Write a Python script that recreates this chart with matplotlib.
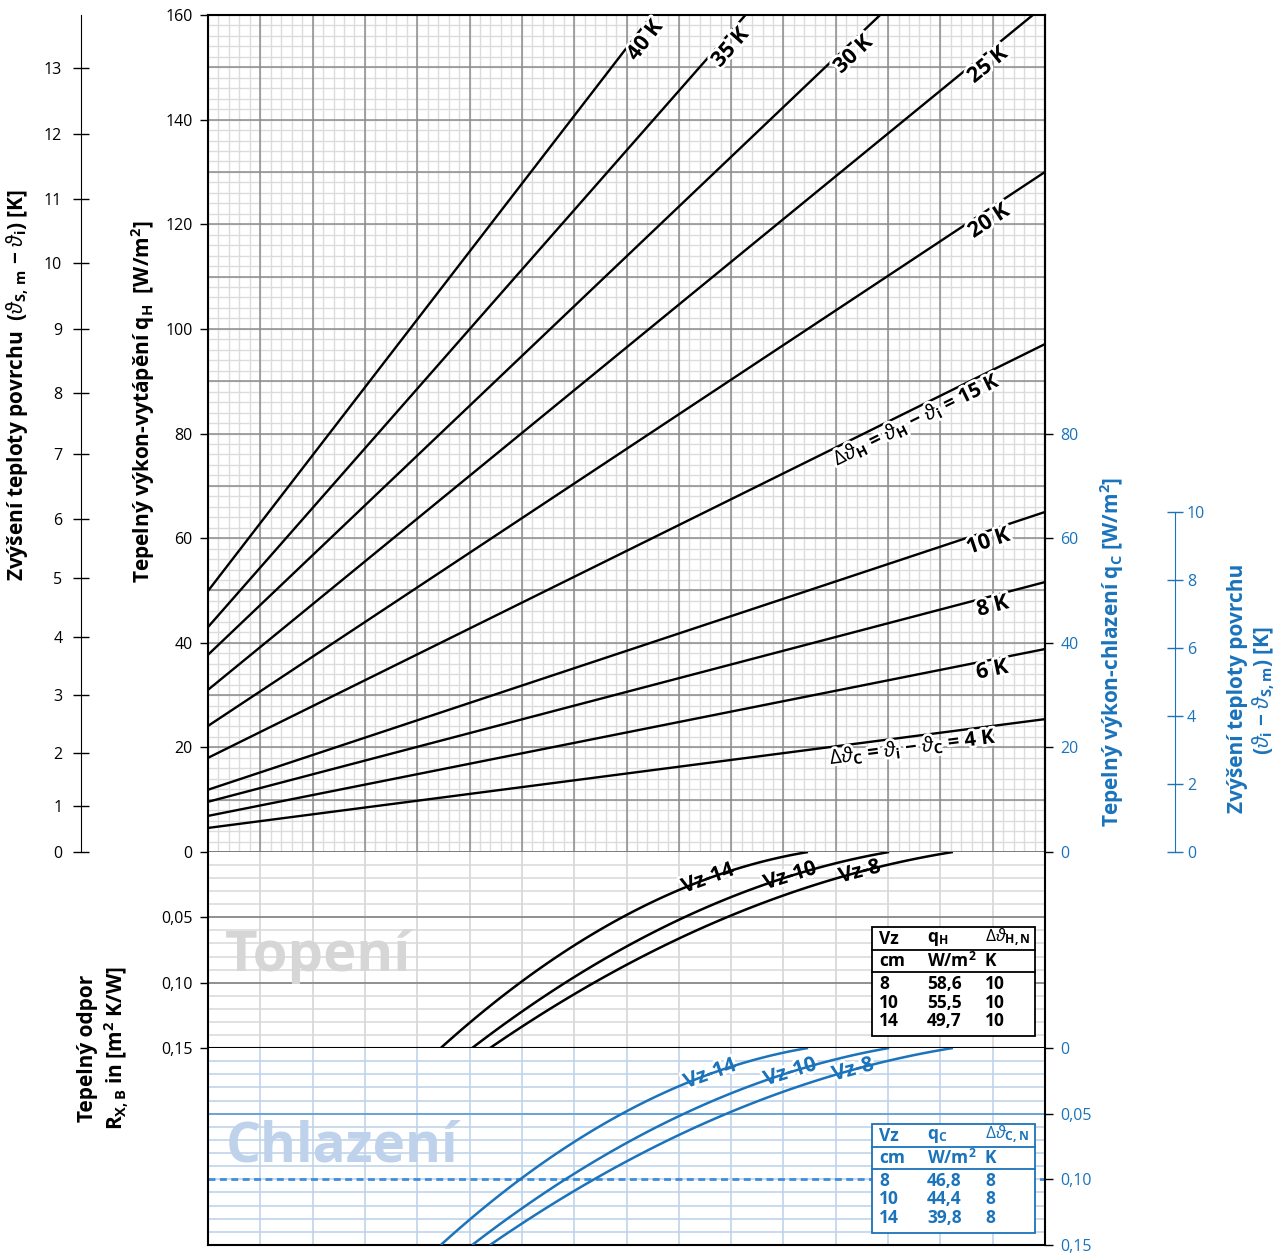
import matplotlib
matplotlib.use("Agg")
import matplotlib.pyplot as plt
import matplotlib.patheffects as pe
from matplotlib.patches import Rectangle
from matplotlib.lines import Line2D
from matplotlib.transforms import Affine2D
import numpy as np

plt.rcParams['font.family'] = ['Open Sans', 'DejaVu Sans']
plt.rcParams['mathtext.fontset'] = 'custom'
plt.rcParams['mathtext.rm'] = 'Open Sans'
plt.rcParams['mathtext.bf'] = 'Open Sans:bold'
plt.rcParams['mathtext.it'] = 'Open Sans:italic'
plt.rcParams['mathtext.sf'] = 'Open Sans'

BLUE = '#1a73bb'

# heat output lines for each temperature difference (q at left and right edge)
dT_lines = [4, 6, 8, 10, 15, 20, 25, 30, 35, 40]
q_left = [4.6, 6.9, 9.6, 11.9, 18.0, 24.1, 31.0, 37.7, 43.0, 49.9]
q_right = [25.4, 38.8, 51.6, 65.0, 97.1, 130.0, 161.9, 190.0, 225.2, 257.5]
line_labels = [r"$\Delta\vartheta_\mathbf{C}$ = $\vartheta_\mathbf{i}$ − $\vartheta_\mathbf{C}$ = 4 K",
               "6 K", "8 K", "10 K",
               r"$\Delta\vartheta_\mathbf{H}$ = $\vartheta_\mathbf{H}$ − $\vartheta_\mathbf{i}$ = 15 K",
               "20 K", "25 K", "30 K", "35 K", "40 K"]
label_x = [13.45, 14.95, 14.95, 14.85, 13.45, 14.82, 14.78, 12.2, 9.84, 8.2]

# surface temperature scale (left), tick values and their q position
surf_K = list(range(0, 14))
surf_q = [0, 8.8, 18.9, 30.0, 41.1, 52.4, 63.7, 76.0, 87.8, 100.0, 112.5, 124.9, 137.3, 149.9]

# thermal resistance curves for pipe spacing Vz
vz_names = ["Vz-14", "Vz-10", "Vz-8"]
vz_x = [[4.45, 5.01, 5.96, 6.98, 8.01, 9.08, 10.17, 11.47],
        [5.05, 5.96, 6.98, 8.01, 9.40, 10.04, 11.76, 13.02],
        [5.39, 5.96, 6.98, 8.01, 9.40, 11.07, 12.02, 13.04, 14.24]]
vz_R = [[0.150, 0.1286, 0.1000, 0.0712, 0.0482, 0.0291, 0.0122, 0.0],
        [0.150, 0.1248, 0.0957, 0.0689, 0.0459, 0.0352, 0.0115, 0.0],
        [0.150, 0.1377, 0.1094, 0.0842, 0.0612, 0.0306, 0.0199, 0.0099, 0.0]]
vz_lab_heat = [9.56, 11.13, 12.46]
vz_lab_cool = [9.6, 11.13, 12.33]

# tables
tab_vz = ["8", "10", "14"]
tab_qH = ["58,6", "55,5", "49,7"]
tab_dH = ["10", "10", "10"]
tab_qC = ["46,8", "44,4", "39,8"]
tab_dC = ["8", "8", "8"]

W, H = 1287, 1254
fig = plt.figure(figsize=(W / 100, H / 100), dpi=100)
pxT = Affine2D().scale(1 / W, -1 / H).translate(0, 1) + fig.transFigure


def box(x0, y0, x1, y1):
    return [x0 / W, 1 - y1 / H, (x1 - x0) / W, (y1 - y0) / H]


ax = fig.add_axes(box(208, 15, 1045, 852))
axT = fig.add_axes(box(208, 852, 1045, 1048))
axC = fig.add_axes(box(208, 1048, 1045, 1245))

# ---- main panel
ax.set_xlim(0, 16)
ax.set_ylim(0, 160)
ax.vlines(np.arange(0, 16.01, 0.2), 0, 160, colors='#dcdcdc', lw=1, zorder=0)
ax.hlines(np.arange(0, 160.1, 2), 0, 16, colors='#dcdcdc', lw=1, zorder=0)
ax.vlines(np.arange(0, 17, 1), 0, 160, colors='#8c8c8c', lw=1.1, zorder=0.5)
ax.hlines(np.arange(0, 161, 10), 0, 16, colors='#8c8c8c', lw=1.1, zorder=0.5)
ax.set_xticks([])
ax.set_yticks(range(0, 161, 20))
ax.tick_params(axis='y', direction='out', length=6, width=1, labelsize=11.5, pad=5)
for s in ['left', 'top', 'right']:
    ax.spines[s].set_linewidth(1.5)
ax.spines['bottom'].set_color('#777777')
ax.spines['bottom'].set_linewidth(1.2)

halo = [pe.withStroke(linewidth=4, foreground='white')]
for dT, ql, qr, lab, lx in zip(dT_lines, q_left, q_right, line_labels, label_x):
    ax.plot([0, 16], [ql, qr], color='black', lw=1.7, zorder=3)
    p0 = ax.transData.transform((0, ql))
    p1 = ax.transData.transform((16, qr))
    ang = np.degrees(np.arctan2(p1[1] - p0[1], p1[0] - p0[0]))
    ly = ql + (qr - ql) * lx / 16
    fs = 14.5 if len(lab) > 6 else 15.5
    ax.text(lx, ly, lab, rotation=ang, rotation_mode='anchor', ha='center', va='top',
            fontsize=fs, fontweight='bold', color='black', path_effects=halo, zorder=4)

ax2 = ax.twinx()
ax2.set_ylim(0, 160)
ax2.set_yticks(range(0, 81, 20))
ax2.tick_params(axis='y', direction='out', length=6, width=1, labelsize=11.5, pad=5,
                colors='black', labelcolor=BLUE)
for s in ['left', 'top', 'bottom']:
    ax2.spines[s].set_visible(False)
ax2.spines['right'].set_linewidth(1.5)

# ---- lower panels
for a, minor_c, vert_c in [(axT, '#d9d9d9', '#d2d2d2'), (axC, '#bcd1ea', '#bcd1ea')]:
    a.set_xlim(0, 16)
    a.set_ylim(0.15, 0)
    a.vlines(np.arange(1, 16, 1), 0, 0.15, colors=vert_c, lw=1.1, zorder=0)
    a.hlines(np.arange(0.01, 0.15, 0.01), 0, 16, colors=minor_c, lw=1.1, zorder=0)
    a.set_xticks([])
    a.spines['top'].set_visible(False)
    for s in ['left', 'right', 'bottom']:
        a.spines[s].set_linewidth(1.5)

axT.hlines([0.05, 0.10], 0, 16, colors='#7a7a7a', lw=1.1, zorder=0.5)
axT.set_yticks([0.05, 0.10, 0.15])
axT.set_yticklabels(["0,05", "0,10", "0,15"])
axT.tick_params(axis='y', direction='out', length=6, width=1, labelsize=11.5, pad=5)

axC.hlines([0.05], 0, 16, colors='#5b9bd5', lw=1.2, zorder=0.5)
axC.hlines([0.10], 0, 16, colors='#3d8fdb', lw=2, linestyles=(0, (2.5, 1.6)), zorder=0.5)
axC.yaxis.tick_right()
axC.set_yticks([0, 0.05, 0.10, 0.15])
axC.set_yticklabels(["0", "0,05", "0,10", "0,15"])
axC.tick_params(axis='y', direction='out', length=6, width=1, labelsize=11.5, pad=5,
                colors='black', labelcolor=BLUE)

axT.text(0.32, 0.080, "Topení", fontsize=40.5, fontweight='bold', color='#d6d6d6',
         ha='left', va='center', zorder=0.8)
axC.text(0.33, 0.075, "Chlazení", fontsize=39.5, fontweight='bold', color='#bed2ec',
         ha='left', va='center', zorder=0.8)

for a, col, labx in [(axT, 'black', vz_lab_heat), (axC, BLUE, vz_lab_cool)]:
    halo2 = [pe.withStroke(linewidth=4, foreground='white')]
    for name, xs, Rs, lx in zip(vz_names, vz_x, vz_R, labx):
        # smooth curve through the read points, ends held in place
        wts = np.ones(len(xs))
        wts[0] = wts[-1] = 8
        cf = np.polyfit(xs, Rs, 2, w=wts)
        xd = np.linspace(xs[0], xs[-1], 80)
        rd = np.polyval(cf, xd)
        a.plot(xd, rd, color=col, lw=1.8, zorder=4, solid_capstyle='butt')
        q0 = a.transData.transform((lx - 0.3, np.polyval(cf, lx - 0.3)))
        q1 = a.transData.transform((lx + 0.3, np.polyval(cf, lx + 0.3)))
        ang = np.degrees(np.arctan2(q1[1] - q0[1], q1[0] - q0[0]))
        a.text(lx, np.polyval(cf, lx), name, rotation=ang, rotation_mode='anchor',
               ha='center', va='center', fontsize=15, fontweight='bold', color=col,
               path_effects=halo2, zorder=3)

# ---- outer left scale
axO = fig.add_axes(box(81, 15, 82, 852))
axO.set_ylim(0, 160)
for s in ['right', 'top', 'bottom']:
    axO.spines[s].set_visible(False)
axO.patch.set_visible(False)
axO.set_xticks([])
axO.set_yticks(surf_q)
axO.set_yticklabels([str(k) for k in surf_K])
axO.tick_params(axis='y', direction='inout', length=11, width=1, labelsize=11.5, pad=8)

# ---- outer right scale
axR = fig.add_axes(box(1174, 512, 1175, 852))
axR.set_ylim(0, 10)
for s in ['left', 'top', 'bottom']:
    axR.spines[s].set_visible(False)
axR.spines['right'].set_color(BLUE)
axR.patch.set_visible(False)
axR.set_xticks([])
axR.yaxis.tick_right()
axR.set_yticks(range(0, 11, 2))
axR.tick_params(axis='y', direction='inout', length=11, width=1, labelsize=11.5, pad=3,
                colors=BLUE)

# ---- axis titles
lab_kw = dict(transform=pxT, rotation=90, ha='center', va='center', fontsize=15,
              fontweight='bold')
fig.text(18, 385, r"Zvýšení teploty povrchu  ($\vartheta_\mathbf{S,\,m}$ − $\vartheta_\mathbf{i}$) [K]", **lab_kw)
fig.text(143, 402, r"Tepelný výkon-vytápění q$_\mathbf{H}$  [W/m$^\mathbf{2}$]", **lab_kw)
fig.text(88, 1048, "Tepelný odpor", **lab_kw)
fig.text(117, 1048, r"R$_\mathbf{X,B}$ in [m$^\mathbf{2}$ K/W]", **lab_kw)
fig.text(1112, 652, r"Tepelný výkon-chlazení q$_\mathbf{C}$ [W/m$^\mathbf{2}$]", color=BLUE, **lab_kw)
fig.text(1237, 688, "Zvýšení teploty povrchu", color=BLUE, **lab_kw)
fig.text(1264, 690, r"($\vartheta_\mathbf{i}$ − $\vartheta_\mathbf{S,m}$) [K]", color=BLUE, **lab_kw)

# ---- tables
def table(y0, col, qname, dname, qs, ds):
    fig.add_artist(Rectangle((872, y0), 163, 109, transform=pxT, facecolor='white',
                             edgecolor=col, lw=1.3, zorder=5))
    for yy in [y0 + 23, y0 + 45]:
        fig.add_artist(Line2D([872, 1035], [yy, yy], transform=pxT, color=col, lw=1.3, zorder=6))
    kw = dict(transform=pxT, ha='left', va='center', fontsize=12.5, fontweight='bold',
              color=col, zorder=7)
    fig.text(879, y0 + 12, "Vz", **kw)
    fig.text(927, y0 + 12, qname, **kw)
    fig.text(985, y0 + 11, dname, **kw)
    fig.text(879, y0 + 34, "cm", **kw)
    fig.text(927, y0 + 34, r"W/m$^\mathbf{2}$", **kw)
    fig.text(985, y0 + 34, "K", **kw)
    for i, (v, q, d) in enumerate(zip(tab_vz, qs, ds)):
        yy = y0 + 57 + i * 18.5
        fig.text(879, yy, v, **kw)
        fig.text(927, yy, q, **kw)
        fig.text(985, yy, d, **kw)


table(927, 'black', r"q$_\mathbf{H}$", r"$\Delta\vartheta_\mathbf{H,N}$", tab_qH, tab_dH)
table(1124, BLUE, r"q$_\mathbf{C}$", r"$\Delta\vartheta_\mathbf{C,N}$", tab_qC, tab_dC)

fig.savefig("out.png", dpi=100)
